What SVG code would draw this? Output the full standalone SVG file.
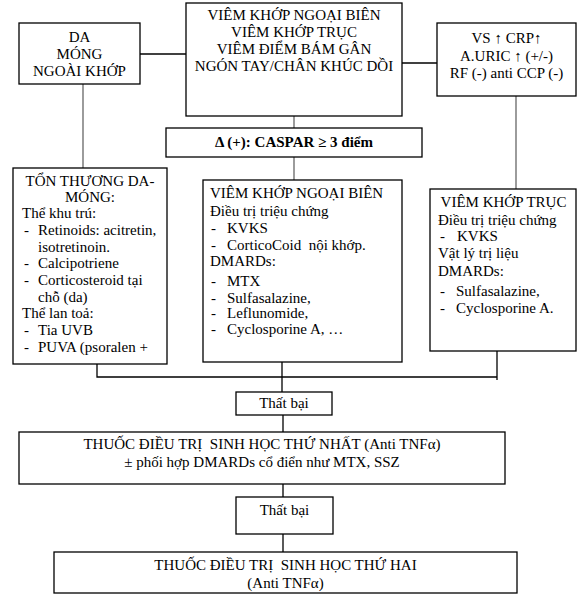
<svg xmlns="http://www.w3.org/2000/svg" width="587" height="601" viewBox="0 0 587 601">
<style>
rect{fill:#fff;stroke:#000;stroke-width:1.3}
text{font-size:15px;fill:#000;white-space:pre}
.c{text-anchor:middle}
.b{font-weight:bold}
.ln{stroke:#000;stroke-width:1.3;fill:none}
.g{stroke:#666;stroke-width:1.3;fill:none}
</style>
<rect x="0" y="0" width="587" height="601" style="fill:#fff;stroke:none"/>
<g id="connectors">
<line class="ln" x1="140" y1="54" x2="186" y2="54"/>
<line class="ln" x1="402" y1="63" x2="437" y2="63"/>
<line class="g" x1="83" y1="84" x2="83" y2="168"/>
<line class="g" x1="294" y1="107" x2="294" y2="128"/>
<line class="g" x1="294" y1="157" x2="294" y2="180"/>
<line class="g" x1="516" y1="96" x2="516" y2="189"/>
<polyline class="ln" points="97,364 97,377 497,377"/>
<line class="ln" x1="497" y1="351" x2="497" y2="380"/>
<line class="ln" x1="282" y1="362" x2="282" y2="392"/>
<line class="ln" x1="283" y1="415" x2="283" y2="432"/>
<line class="ln" x1="283" y1="484" x2="283" y2="497"/>
<line class="ln" x1="283" y1="534" x2="283" y2="552"/>
</g>
<g font-family="'Liberation Serif', Tinos, 'Times New Roman', 'DejaVu Serif', serif">
<g id="node-da">
<rect x="19" y="23" width="121" height="61"/>
<text class="c" x="79.5" y="42">DA</text>
<text class="c" x="79.5" y="59">MÓNG</text>
<text class="c" x="79.5" y="76">NGOÀI KHỚP</text>
</g>
<g id="node-main">
<rect x="186" y="3" width="216" height="113"/>
<text class="c" x="294" y="20">VIÊM KHỚP NGOẠI BIÊN</text>
<text class="c" x="294" y="37">VIÊM KHỚP TRỤC</text>
<text class="c" x="294" y="54">VIÊM ĐIỂM BÁM GÂN</text>
<text class="c" x="294" y="71">NGÓN TAY/CHÂN KHÚC DỒI</text>
</g>
<g id="node-lab">
<rect x="437" y="23" width="139" height="73"/>
<text class="c" x="506.5" y="43">VS ↑ CRP↑</text>
<text class="c" x="506.5" y="61">A.URIC ↑ (+/-)</text>
<text class="c" x="506.5" y="78">RF (-) anti CCP (-)</text>
</g>
<g id="node-caspar">
<rect x="166" y="128" width="256" height="29"/>
<text class="c b" x="294" y="147">Δ (+): CASPAR ≥ 3 điểm</text>
</g>
<g id="node-skin">
<rect x="13" y="168" width="154" height="196"/>
<text class="c" x="90" y="186">TỔN THƯƠNG DA-</text>
<text class="c" x="90" y="202">MÓNG:</text>
<text x="22" y="218">Thể khu trú:</text>
<text x="24" y="235">-</text><text x="38" y="235">Retinoids: acitretin,</text>
<text x="38" y="252">isotretinoin.</text>
<text x="24" y="268">-</text><text x="38" y="268">Calcipotriene</text>
<text x="24" y="285">-</text><text x="38" y="285">Corticosteroid tại</text>
<text x="38" y="302">chỗ (da)</text>
<text x="22" y="318">Thể lan toả:</text>
<text x="24" y="335">-</text><text x="38" y="335">Tia UVB</text>
<text x="24" y="352">-</text><text x="38" y="352">PUVA (psoralen +</text>
</g>
<g id="node-peripheral">
<rect x="203" y="180" width="199" height="182"/>
<text x="210" y="198">VIÊM KHỚP NGOẠI BIÊN</text>
<text x="210" y="216">Điều trị triệu chứng</text>
<text x="211" y="233">-</text><text x="227" y="233">KVKS</text>
<text x="211" y="250">-</text><text x="227" y="250">CorticoCoid  nội khớp.</text>
<text x="210" y="266">DMARDs:</text>
<text x="211" y="286">-</text><text x="227" y="286">MTX</text>
<text x="211" y="303">-</text><text x="227" y="303">Sulfasalazine,</text>
<text x="211" y="318">-</text><text x="227" y="318">Leflunomide,</text>
<text x="211" y="334">-</text><text x="227" y="334">Cyclosporine A, …</text>
</g>
<g id="node-axial">
<rect x="430" y="189" width="146" height="162"/>
<text class="c" x="503.5" y="207">VIÊM KHỚP TRỤC</text>
<text x="438" y="225">Điều trị triệu chứng</text>
<text x="440" y="241">-</text><text x="457" y="241">KVKS</text>
<text x="438" y="258">Vật lý trị liệu</text>
<text x="438" y="276">DMARDs:</text>
<text x="440" y="296">-</text><text x="456" y="296">Sulfasalazine,</text>
<text x="440" y="313">-</text><text x="456" y="313">Cyclosporine A.</text>
</g>
<g id="node-fail1">
<rect x="236" y="392" width="96" height="23"/>
<text class="c" x="284" y="408">Thất bại</text>
</g>
<g id="node-bio1">
<rect x="19" y="432" width="486" height="52"/>
<text class="c" x="262" y="449">THUỐC ĐIỀU TRỊ  SINH HỌC THỨ NHẤT (Anti TNFα)</text>
<text class="c" x="262" y="467">± phối hợp DMARDs cổ điển như MTX, SSZ</text>
</g>
<g id="node-fail2">
<rect x="236" y="497" width="97" height="37"/>
<text class="c" x="284.5" y="515">Thất bại</text>
</g>
<g id="node-bio2">
<rect x="54" y="552" width="463" height="41"/>
<text class="c" x="285.5" y="570">THUỐC ĐIỀU TRỊ  SINH HỌC THỨ HAI</text>
<text class="c" x="285.5" y="588">(Anti TNFα)</text>
</g>
</g>
</svg>
